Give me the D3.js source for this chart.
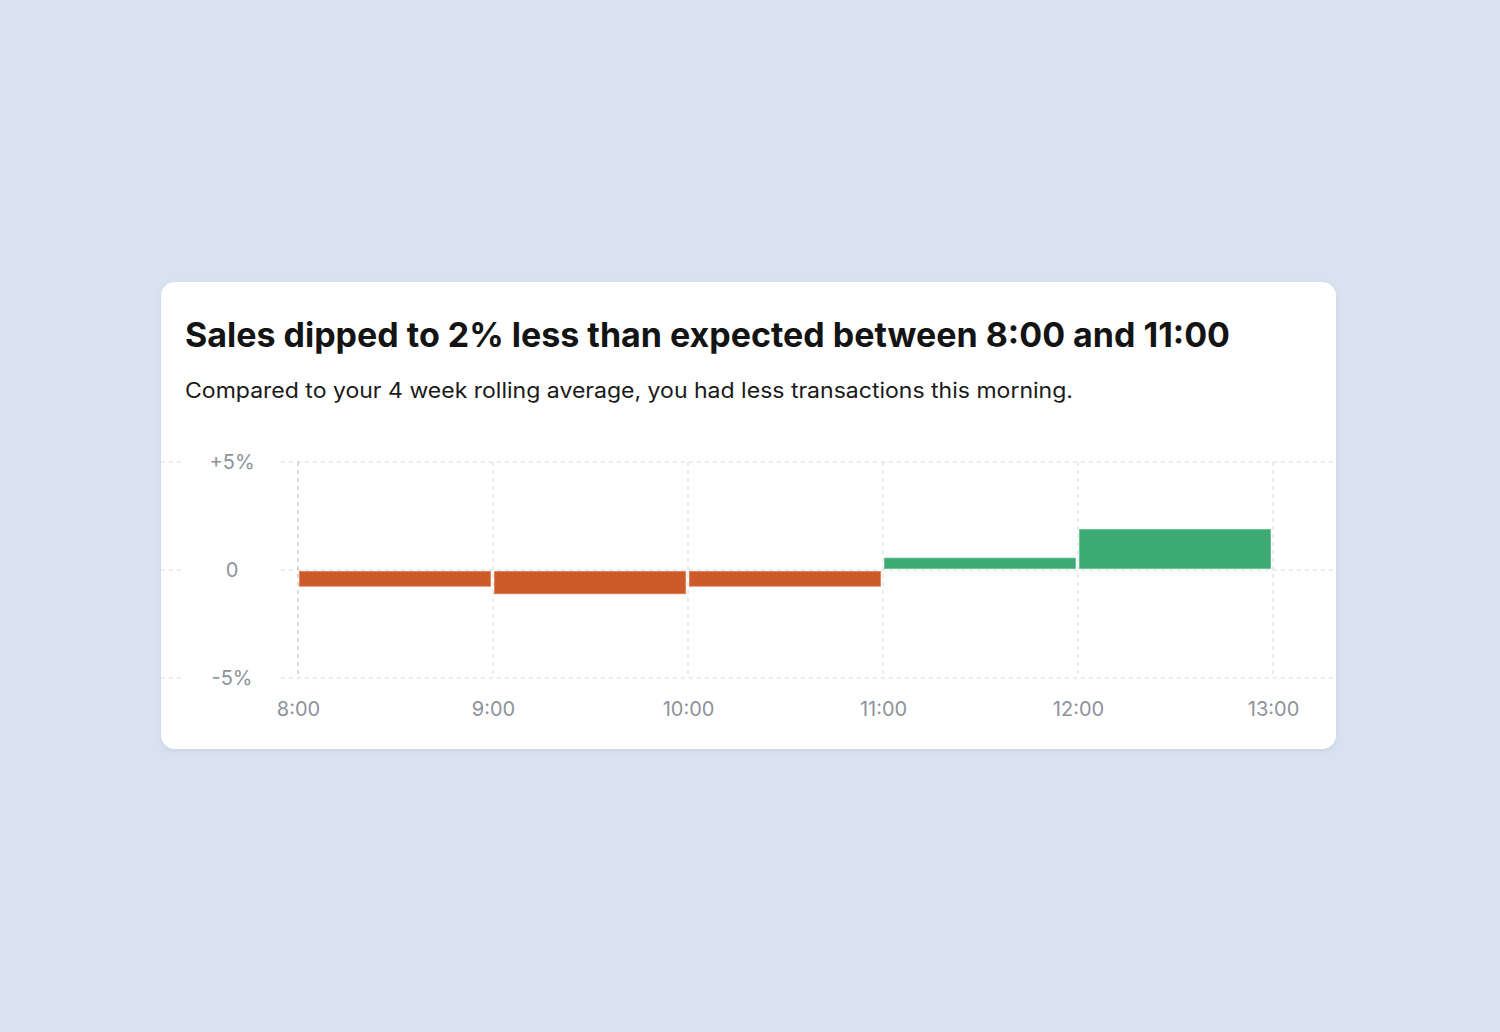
<!DOCTYPE html>
<html>
<head>
<meta charset="utf-8">
<script src="https://cdn.jsdelivr.net/npm/d3@7"></script>
<style>
  html, body { margin: 0; padding: 0; background: #d9e2f0; }
  svg { display: block; }
</style>
</head>
<body>
<script>
// ---- data ----
const hours = [8, 9, 10, 11, 12];           // start of each hourly bin
const deltas = [-0.75, -1.1, -0.75, 0.55, 1.88]; // % vs 4-week rolling average
const xTickValues = [8, 9, 10, 11, 12, 13];
const xTickLabels = ["8:00", "9:00", "10:00", "11:00", "12:00", "13:00"];
const yTickValues = [5, 0, -5];
const yTickLabels = ["+5%", "0", "-5%"];
const title = "Sales dipped to 2% less than expected between 8:00 and 11:00";
const subtitle = "Compared to your 4 week rolling average, you had less transactions this morning.";

const W = 1500, H = 1032;
const card = { x: 161, y: 282, w: 1175, h: 467, r: 14 };

const svg = d3.select("body").append("svg").attr("width", W).attr("height", H);

const defs = svg.append("defs");
const f = defs.append("filter").attr("id", "shadow").attr("x", "-5%").attr("y", "-10%").attr("width", "110%").attr("height", "125%");
f.append("feDropShadow").attr("dx", 0).attr("dy", 2).attr("stdDeviation", 3).attr("flood-color", "#7a8aa8").attr("flood-opacity", 0.18);

svg.append("rect").attr("width", W).attr("height", H).attr("fill", "#d9e2f0");
svg.append("rect").attr("x", card.x).attr("y", card.y).attr("width", card.w).attr("height", card.h)
  .attr("rx", card.r).attr("fill", "#ffffff").attr("filter", "url(#shadow)");

svg.append("text").attr("x", 185).attr("y", 347)
  .attr("font-family", "Inter, 'Noto Sans', sans-serif").attr("font-weight", 700).attr("font-size", 34)
  .attr("fill", "#141414").attr("textLength", 1045).attr("lengthAdjust", "spacingAndGlyphs")
  .text(title);

svg.append("text").attr("x", 185).attr("y", 398)
  .attr("font-family", "Inter, 'Noto Sans', sans-serif").attr("font-weight", 400).attr("font-size", 21)
  .attr("fill", "#1a1a1a").attr("textLength", 888).attr("lengthAdjust", "spacingAndGlyphs")
  .text(subtitle);

// ---- scales ----
const x = d3.scaleLinear().domain([8, 13]).range([298, 1273]);
const y = d3.scaleLinear().domain([-5, 5]).range([678, 462]);

const g = svg.append("g");
const gridColor = "#d9d9de";

// horizontal gridlines spanning full card width
g.selectAll("line.hgrid").data(yTickValues).join("line")
  .attr("class", "hgrid")
  .attr("x1", card.x).attr("x2", card.x + card.w)
  .attr("y1", d => y(d)).attr("y2", d => y(d))
  .attr("stroke", gridColor).attr("stroke-width", 1).attr("stroke-dasharray", "4,4");

// vertical gridlines
g.selectAll("line.vgrid").data(xTickValues).join("line")
  .attr("class", "vgrid")
  .attr("x1", d => x(d)).attr("x2", d => x(d))
  .attr("y1", y(5)).attr("y2", y(-5))
  .attr("stroke", (d, i) => i === 0 ? "#b4b6bd" : gridColor)
  .attr("stroke-width", 1).attr("stroke-dasharray", "4,4");

// y labels with white backing boxes
const yl = g.selectAll("g.ylab").data(yTickValues).join("g").attr("class", "ylab")
  .attr("transform", d => `translate(232,${y(d)})`);
yl.append("rect").attr("x", -47).attr("y", -6).attr("width", 95).attr("height", 12).attr("fill", "#fff");
yl.append("text").attr("text-anchor", "middle").attr("dy", "0.35em")
  .attr("font-family", "Inter, 'Noto Sans', sans-serif").attr("font-size", 20).attr("fill", "#8e929c")
  .text((d, i) => yTickLabels[i]);

// x axis labels
const xAxis = d3.axisBottom(x).tickValues(xTickValues).tickSize(0).tickPadding(0)
  .tickFormat((d, i) => xTickLabels[i]);
const xa = g.append("g").attr("transform", `translate(0,${y(-5)})`).call(xAxis);
xa.select(".domain").remove();
xa.selectAll("text").attr("y", 38).attr("dy", 0)
  .attr("font-family", "Inter, 'Noto Sans', sans-serif").attr("font-size", 20).attr("fill", "#8e929c");

// bars
const orange = "#cd5a28", green = "#3daa74";
g.selectAll("rect.bar").data(hours).join("rect")
  .attr("class", "bar")
  .attr("x", d => x(d) + 1.5)
  .attr("width", d => x(d + 1) - x(d) - 4)
  .attr("y", (d, i) => deltas[i] >= 0 ? y(deltas[i]) : y(0) + 1.5)
  .attr("height", (d, i) => Math.abs(y(deltas[i]) - y(0)) - 1.5)
  .attr("fill", (d, i) => deltas[i] >= 0 ? green : orange)
  .attr("stroke", (d, i) => deltas[i] >= 0 ? "#5cc08e" : "#e07a4c")
  .attr("stroke-width", 0.8);
</script>
</body>
</html>
